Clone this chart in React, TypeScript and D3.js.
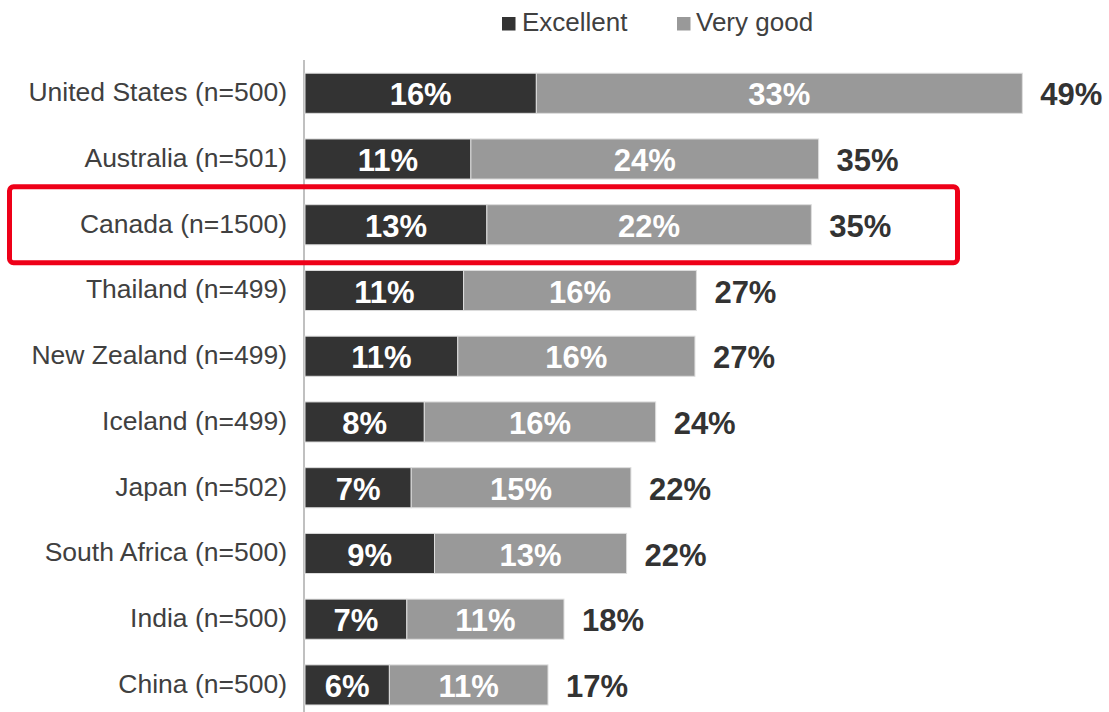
import React from "react";
import * as d3 from "d3";

const categories = [
  "United States (n=500)",
  "Australia (n=501)",
  "Canada (n=1500)",
  "Thailand (n=499)",
  "New Zealand (n=499)",
  "Iceland (n=499)",
  "Japan (n=502)",
  "South Africa (n=500)",
  "India (n=500)",
  "China (n=500)",
];
const excellent = [15.9, 11.4, 12.5, 10.9, 10.5, 8.2, 7.3, 8.9, 7.0, 5.8];
const veryGood = [33.4, 23.9, 22.3, 16.0, 16.3, 15.9, 15.1, 13.2, 10.8, 10.9];
const seriesNames = ["Excellent", "Very good"];
const highlighted = "Canada (n=1500)";

const W = 1109;
const H = 712;
const DARK = "#333333";
const GRAY = "#999999";
const FONT = "'Liberation Sans', Arial, sans-serif";

export default function App() {
  const x = d3.scaleLinear().domain([0, 50]).range([305, 305 + 50 * 14.55]);
  const y = d3
    .scaleBand<string>()
    .domain(categories)
    .range([60.4, 60.4 + 65.74 * categories.length])
    .paddingInner(0.39)
    .paddingOuter(0.195);
  const bw = y.bandwidth();
  const fmt = (v: number) => `${Math.round(v)}%`;

  const hi = y(highlighted)! + bw / 2;

  return (
    <svg
      width={W}
      height={H}
      style={{ position: "absolute", left: 0, top: 0, background: "#fff" }}
      fontFamily={FONT}
    >
      {/* legend */}
      <g>
        <rect x={502} y={17} width={13.5} height={13.5} fill={DARK} />
        <text x={522} y={30.5} fontSize={26} fill="#404040">
          {seriesNames[0]}
        </text>
        <rect x={677} y={17} width={13.5} height={13.5} fill={GRAY} />
        <text x={696} y={30.5} fontSize={26} fill="#404040">
          {seriesNames[1]}
        </text>
      </g>

      {/* axis line */}
      <line x1={304} x2={304} y1={60} y2={H} stroke="#c0c0c0" strokeWidth={2} />

      {categories.map((c, i) => {
        const y0 = y(c)!;
        const cy = y0 + bw / 2;
        const e = excellent[i];
        const v = veryGood[i];
        const t = e + v;
        return (
          <g key={c}>
            <text
              x={287}
              y={cy}
              dy="0.3em"
              textAnchor="end"
              fontSize={26.5}
              fill="#404040"
            >
              {c}
            </text>
            <rect
              x={x(0)}
              y={y0}
              width={x(e) - x(0)}
              height={bw}
              fill={DARK}
              stroke="#dddddd"
              strokeWidth={1}
            />
            <rect
              x={x(e)}
              y={y0}
              width={x(t) - x(e)}
              height={bw}
              fill={GRAY}
              stroke="#dddddd"
              strokeWidth={1}
            />
            <text
              x={(x(0) + x(e)) / 2}
              y={cy}
              dy="0.39em"
              textAnchor="middle"
              fontSize={31}
              fontWeight="bold"
              fill="#ffffff"
            >
              {fmt(e)}
            </text>
            <text
              x={(x(e) + x(t)) / 2}
              y={cy}
              dy="0.39em"
              textAnchor="middle"
              fontSize={31}
              fontWeight="bold"
              fill="#ffffff"
            >
              {fmt(v)}
            </text>
            <text
              x={x(t) + 18}
              y={cy}
              dy="0.39em"
              textAnchor="start"
              fontSize={31}
              fontWeight="bold"
              fill="#333333"
            >
              {fmt(t)}
            </text>
          </g>
        );
      })}

      {/* highlight box */}
      <rect
        x={9.5}
        y={hi - 38}
        width={948}
        height={76}
        rx={4}
        fill="none"
        stroke="#ee0018"
        strokeWidth={5}
      />
    </svg>
  );
}
